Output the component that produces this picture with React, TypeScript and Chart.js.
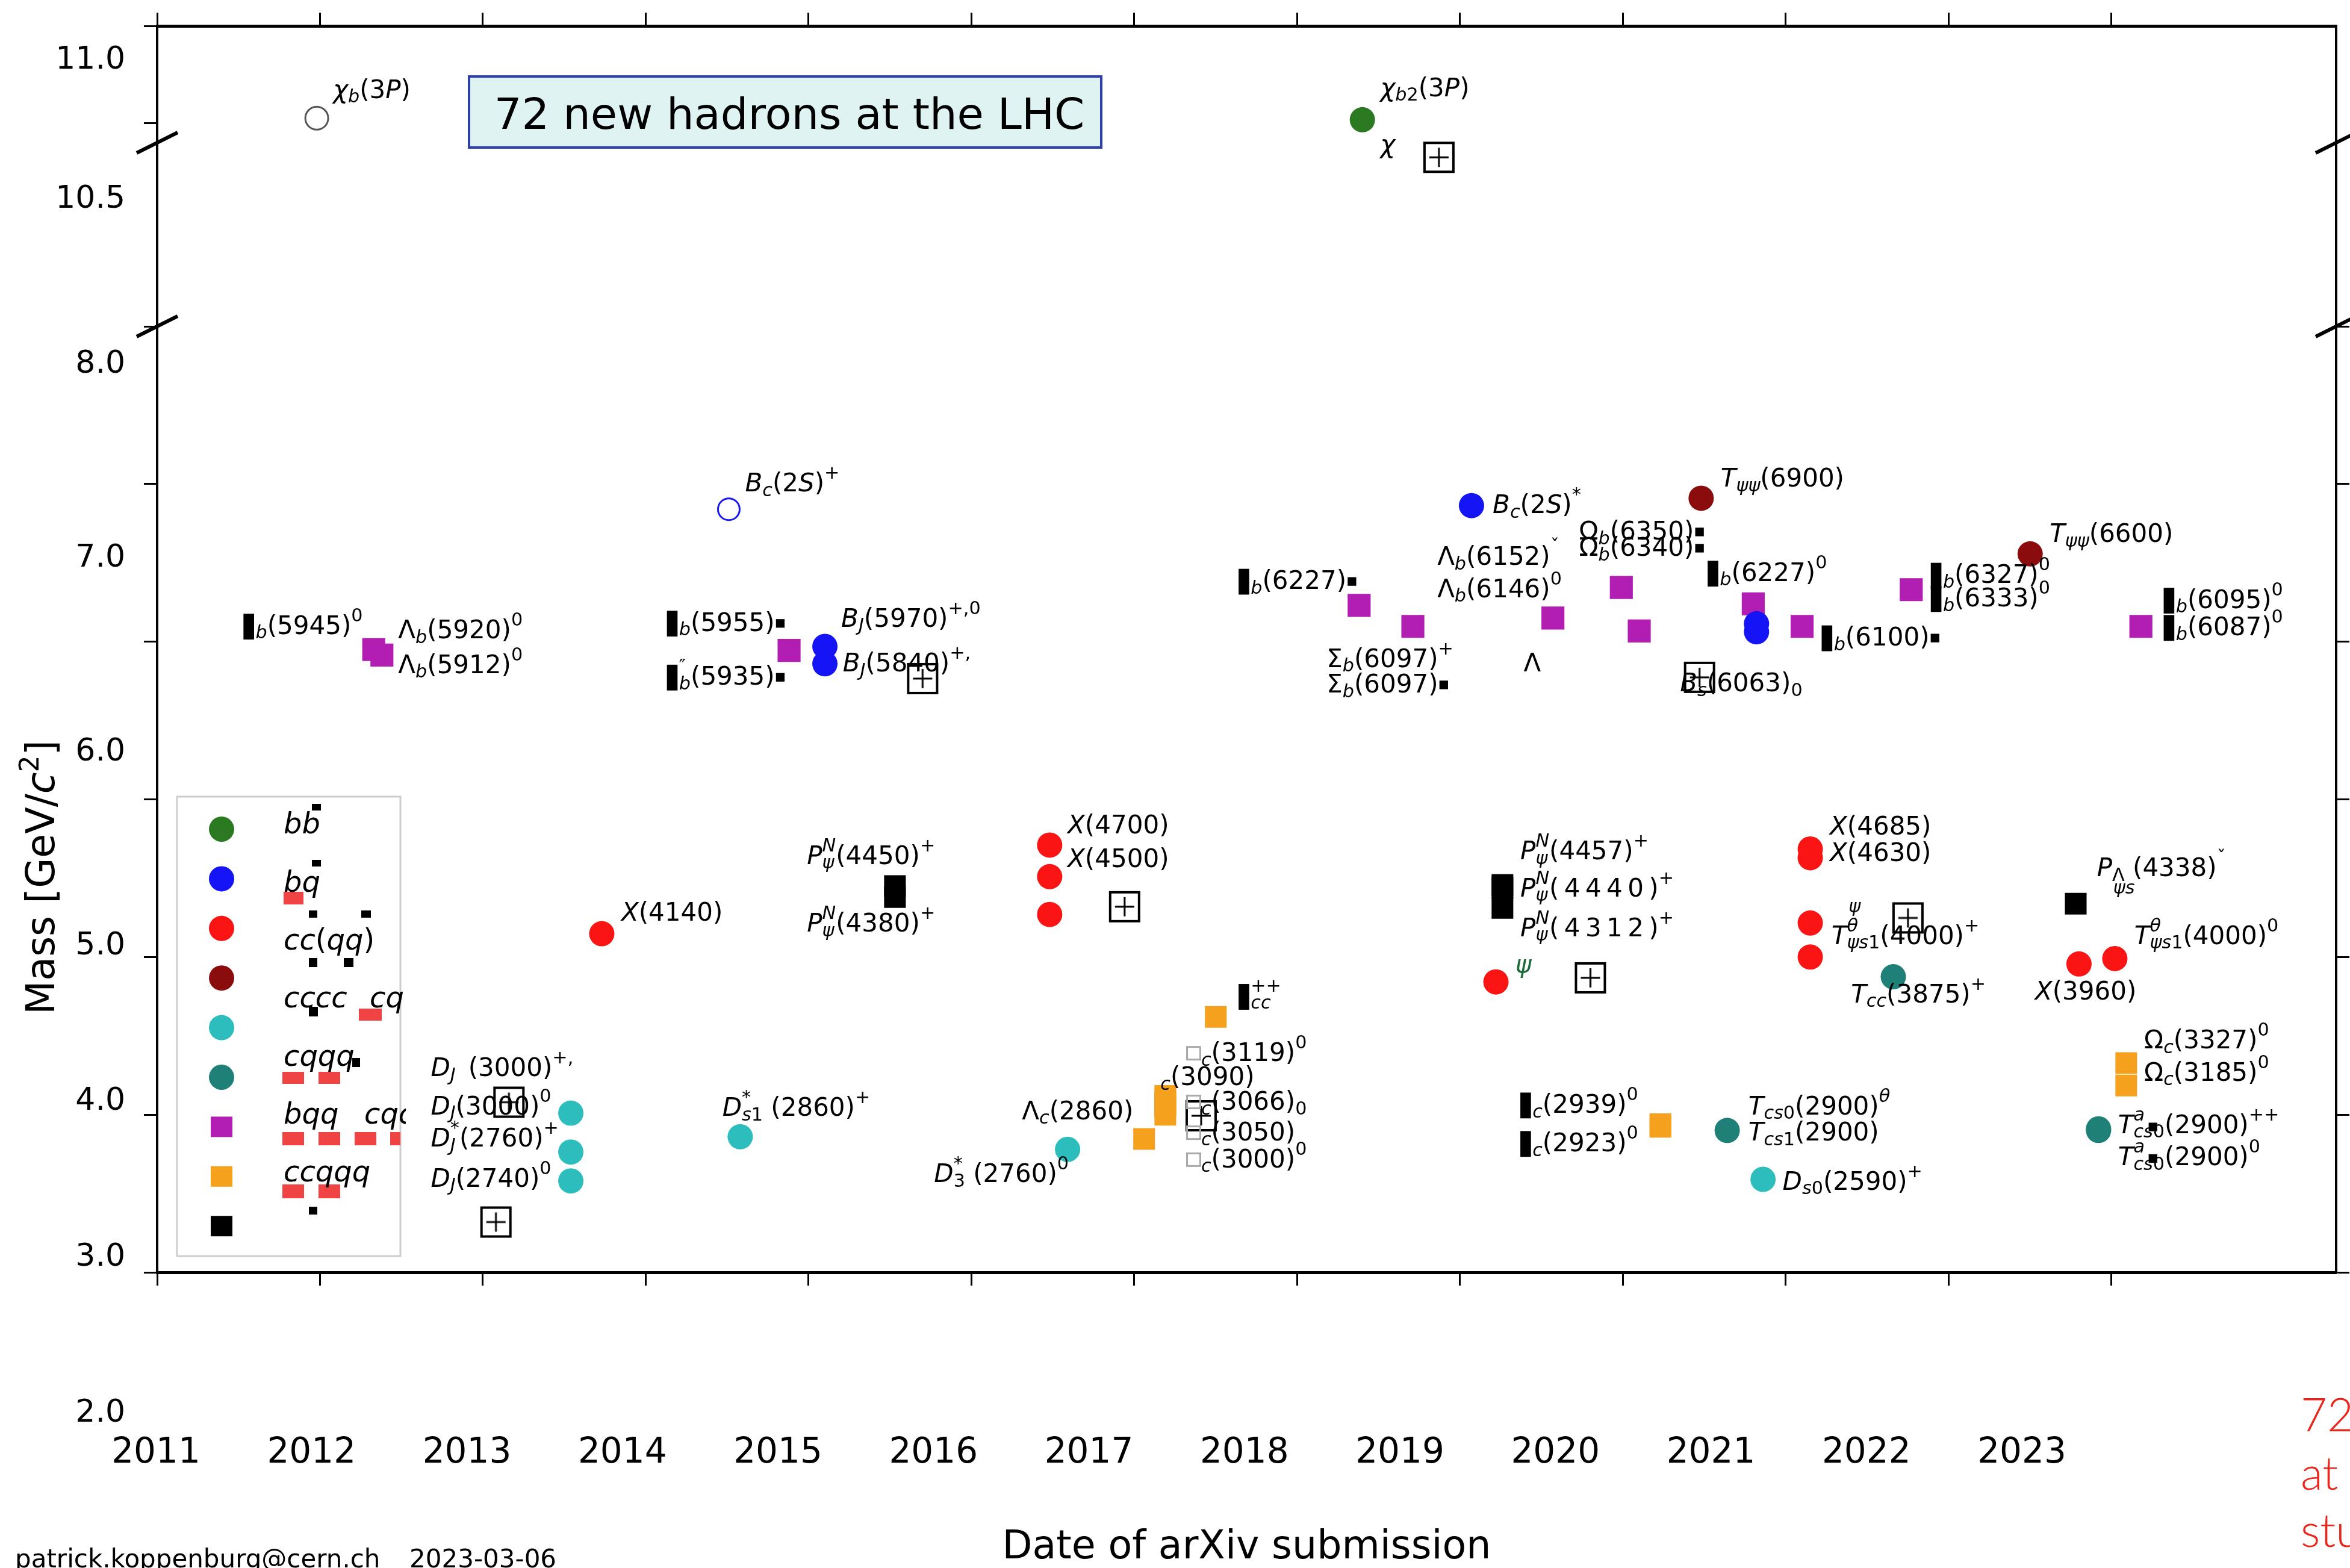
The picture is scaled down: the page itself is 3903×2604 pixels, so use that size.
import React, { useEffect, useRef } from 'react';
import { Chart, registerables, LinearScale } from 'chart.js';

Chart.register(...registerables);

const FONT = '"DejaVu Sans", Verdana, sans-serif';

// ---------------- axis ticks / labels ----------------
const yearTicks = [2011, 2012, 2013, 2014, 2015, 2016, 2017, 2018, 2019, 2020, 2021, 2022, 2023];
const yearLabels = [2011, 2012, 2013, 2014, 2015, 2016, 2017, 2018, 2019, 2020, 2021, 2022, 2023];
const massTicksLeft = [2, 3, 4, 5, 6, 7, 8, 10.5, 11];
const massTicksRight = [2, 3, 4, 5, 6, 7, 8];
const massLabels = [2, 3, 4, 5, 6, 7, 8, 10.5, 11];

// ---------------- legend ----------------
const legendNames = ['bb', 'bq', 'cc(qq)', 'cccc', 'cqqq', 'bqq', 'ccqqq'];
const legendNames2: [string, number, number][] = [['cq', 614, 3], ['cqc', 605, 5]];

// ---------------- data (year, mass GeV) ----------------
const bbPts = [[2018.40, 10.518]];
const bqPts = [[2015.10, 5.97], [2015.10, 5.86], [2019.07, 6.863], [2020.82, 6.114], [2020.82, 6.063]];
const ccPts = [[2013.73, 4.148], [2016.48, 4.71], [2016.48, 4.51], [2016.48, 4.27], [2019.22, 3.842],
  [2021.15, 4.685], [2021.15, 4.63], [2021.15, 4.216], [2021.15, 4.0], [2022.80, 3.956], [2023.02, 3.99]];
const ccccPts = [[2020.48, 6.91], [2022.50, 6.557]];
const cqPts = [[2013.54, 3.01], [2013.54, 2.763], [2013.54, 2.58], [2014.58, 2.86], [2016.59, 2.78], [2020.86, 2.59]];
const cqqqPts = [[2021.66, 3.875], [2020.64, 2.90], [2022.92, 2.90], [2022.92, 2.91]];
const bqqPts = [[2012.33, 5.95], [2012.38, 5.915], [2014.88, 5.945], [2018.38, 6.23], [2018.71, 6.097],
  [2019.57, 6.15], [2019.99, 6.344], [2020.10, 6.068], [2020.80, 6.24], [2021.10, 6.097], [2021.77, 6.33], [2023.18, 6.097]];
const ccqqqPts = [[2017.50, 3.62], [2017.19, 3.119], [2017.19, 3.09], [2017.19, 3.066], [2017.19, 3.05], [2017.19, 3.0],
  [2017.06, 2.846], [2020.23, 2.923], [2020.23, 2.939], [2023.09, 3.327], [2023.09, 3.185]];
const otherPts = [[2015.53, 4.45], [2015.53, 4.38], [2019.26, 4.457], [2019.26, 4.44], [2019.26, 4.312], [2022.78, 4.338]];
const bbOpenPts = [[2011.98, 10.526]];
const bqOpenPts = [[2014.51, 6.84]];
const boxPlusPts = [[2013.08, 2.319], [2013.16, 3.079], [2015.70, 5.766], [2016.94, 4.319], [2018.87, 10.209],
  [2019.80, 3.868], [2020.47, 5.774], [2017.41, 2.993], [2021.75, 4.248]];

// ---------------- particle names (text, year, mass) ----------------
const annotations: [string, number, number][] = [
  ['χ_b(3P)', 2012.08, 10.669],
  ['χ_{b2}(3P)', 2018.51, 10.678],
  ['χ', 2018.51, 10.369],
  ['▮_b(5945)^0', 2011.53, 6.097],
  ['Λ_b(5920)^0', 2012.48, 6.068],
  ['Λ_b(5912)^0', 2012.48, 5.850],
  ['▮_b(5955)▪', 2014.13, 6.116],
  ['▮_b^{″}(5935)▪', 2014.13, 5.774],
  ['B_J(5970)^{+,0}', 2015.20, 6.144],
  ['B_J(5840)^{+,}', 2015.21, 5.859],
  ['B_c(2S)^+', 2014.61, 7.0],
  ['P^N_ψ(4450)^+', 2014.99, 4.638],
  ['P^N_ψ(4380)^+', 2014.99, 4.209],
  ['X(4140)', 2013.85, 4.278],
  ['X(4700)', 2016.59, 4.833],
  ['X(4500)', 2016.59, 4.618],
  ['D^*_{s1} (2860)^+', 2014.47, 3.040],
  ['Λ_c(2860)', 2016.31, 3.020],
  ['D^*_3 (2760)^0', 2015.77, 2.621],
  ['D_J\u2002(3000)^{+,}', 2012.68, 3.293],
  ['D_J(3000)^0', 2012.68, 3.050],
  ['D_J^*(2760)^+', 2012.68, 2.846],
  ['D_J(2740)^0', 2012.68, 2.592],
  ['▮^{++}_{cc}', 2017.64, 3.749],
  ['□_c(3119)^0', 2017.32, 3.388],
  ['_c(3090)', 2017.16, 3.236],
  ['□_c(3066)_0', 2017.32, 3.079],
  ['□_c(3050)', 2017.32, 2.884],
  ['□_c(3000)^0', 2017.32, 2.713],
  ['▮_b(6227)▪', 2017.64, 6.382],
  ['Σ_b(6097)^+', 2018.18, 5.888],
  ['Σ_b(6097)▪', 2018.18, 5.726],
  ['Λ_b(6152)^{ˇ}', 2018.86, 6.534],
  ['Λ_b(6146)^0', 2018.86, 6.331],
  ['Λ', 2019.39, 5.859],
  ['Ω_b(6350)▪', 2019.73, 6.696],
  ['Ω_b(6340)▪', 2019.73, 6.593],
  ['B_c(2S)^*', 2019.20, 6.863],
  ['T_{ψψ}(6900)', 2020.60, 7.031],
  ['▮_b(6227)^0', 2020.52, 6.433],
  ['B_s(6063)_0', 2020.35, 5.732],
  ['▮_b(6100)▪', 2021.22, 6.023],
  ['▮_b(6327)^0', 2021.89, 6.420],
  ['▮_b(6333)^0', 2021.89, 6.272],
  ['T_{ψψ}(6600)', 2022.62, 6.681],
  ['▮_b(6095)^0', 2023.32, 6.262],
  ['▮_b(6087)^0', 2023.32, 6.089],
  ['P^N_ψ(4457)^+', 2019.37, 4.667],
  ['P^N_ψ(\u20094\u20094\u20094\u20090\u2009)^+', 2019.37, 4.433],
  ['P^N_ψ(\u20094\u20093\u20091\u20092\u2009)^+', 2019.37, 4.181],
  ['▮_c(2939)^0', 2019.37, 3.060],
  ['▮_c(2923)^0', 2019.37, 2.816],
  ['X(4685)', 2021.27, 4.823],
  ['X(4630)', 2021.27, 4.658],
  ['T^θ_{ψs1}(4000)^+', 2021.28, 4.131],
  ['^{ψ}', 2021.385, 4.253],
  ['T_{cc}(3875)^+', 2021.40, 3.761],
  ['T_{cs0}(2900)^θ', 2020.77, 3.050],
  ['T_{cs1}(2900)', 2020.77, 2.884],
  ['D_{s0}(2590)^+', 2020.98, 2.573],
  ['P_Λ (4338)^{ˇ}', 2022.91, 4.560],
  ['_{ψs}', 2023.01, 4.481],
  ['T^θ_{ψs1}(4000)^0', 2023.14, 4.131],
  ['X(3960)', 2022.53, 3.780],
  ['Ω_c(3327)^0', 2023.20, 3.469],
  ['Ω_c(3185)^0', 2023.20, 3.264],
  ['T^a_{cs0}(2900)^{++}', 2023.04, 2.932],
  ['T^a_{cs0}(2900)^0', 2023.04, 2.728],
  ['▪', 2023.22, 2.922],
  ['▪', 2023.22, 2.722],
];
const psiNotes: [string, number, number][] = [['ψ', 2019.34, 3.949]];

// ---------------- page / axis geometry ----------------
const CW = 3903, CH = 2604;
const TOP = 43, BOTTOM = 2113, LEFT = 261, RIGHT = 3880;
const vdec = (px: number) => (BOTTOM - px) / (BOTTOM - TOP);
const hdec = (px: number) => (px - LEFT) / (RIGHT - LEFT);
const mainBreaks = [[2, vdec(2113)], [8, vdec(542)], [10.4, vdec(237)], [11, vdec(43)]];
const SCALE_BREAKS: Record<string, number[][]> = {
  y: mainBreaks,
  yR: mainBreaks,
  yLab: [[2, vdec(2347)], [5, vdec(1571)], [8, vdec(605)], [10.5, vdec(331)], [11, vdec(100)]],
  xLab: [[2011, hdec(259)], [2023, hdec(3358)]],
};

class BrokenScale extends LinearScale {
  static id = 'broken';
  static defaults = { ...(LinearScale as any).defaults };
  getPixelForValue(value: any) {
    if (value === null || value === undefined || isNaN(value)) return NaN;
    const b = SCALE_BREAKS[(this as any).id];
    let i = 0;
    while (i < b.length - 2 && value > b[i + 1][0]) i++;
    const [v0, d0] = b[i];
    const [v1, d1] = b[i + 1];
    const d = d0 + ((value - v0) * (d1 - d0)) / (v1 - v0);
    return (this as any).getPixelForDecimal(d);
  }
  getValueForPixel(pixel: number) {
    const b = SCALE_BREAKS[(this as any).id];
    const d = (this as any).getDecimalForPixel(pixel);
    let i = 0;
    while (i < b.length - 2 && d > b[i + 1][1]) i++;
    const [v0, d0] = b[i];
    const [v1, d1] = b[i + 1];
    return v0 + ((d - d0) * (v1 - v0)) / (d1 - d0);
  }
}
Chart.register(BrokenScale as any);

// ---------------- rich text helpers ----------------
type Tok = { text: string; kind: 'n' | 'sub' | 'sup' };
function parseLabel(s: string): Tok[] {
  const out: Tok[] = [];
  let buf = '';
  let i = 0;
  const flush = () => { if (buf) { out.push({ text: buf, kind: 'n' }); buf = ''; } };
  while (i < s.length) {
    const ch = s[i];
    if (ch === '_' || ch === '^') {
      flush();
      let grp = '';
      if (s[i + 1] === '{') {
        const j = s.indexOf('}', i + 2);
        grp = s.slice(i + 2, j);
        i = j + 1;
      } else {
        const cp = String.fromCodePoint(s.codePointAt(i + 1) as number);
        grp = cp;
        i += 1 + cp.length;
      }
      out.push({ text: grp, kind: ch === '_' ? 'sub' : 'sup' });
    } else {
      buf += ch;
      i++;
    }
  }
  flush();
  return out;
}

function drawRun(ctx: CanvasRenderingContext2D, s: string, x: number, baseline: number, size: number, mid: number, color: string, autoItalic = true) {
  for (const ch of Array.from(s)) {
    if (ch === '▮') {
      ctx.fillStyle = color;
      ctx.fillRect(x, mid - size * 0.5, size * 0.42, size * 1.02);
      x += size * 0.48;
      continue;
    }
    if (ch === '▪') {
      ctx.fillStyle = color;
      ctx.fillRect(x + size * 0.05, mid - size * 0.17, size * 0.34, size * 0.34);
      x += size * 0.44;
      continue;
    }
    if (ch === '□') {
      ctx.strokeStyle = '#a9a9a9';
      ctx.lineWidth = 3;
      ctx.strokeRect(x + 1, mid - size * 0.26, size * 0.52, size * 0.5);
      x += size * 0.58;
      continue;
    }
    const it = autoItalic && /[A-Za-z\u03b1-\u03c9]/.test(ch);
    ctx.font = `${it ? 'italic ' : ''}${size}px ${FONT}`;
    ctx.fillStyle = color;
    ctx.fillText(ch, x, baseline);
    x += ctx.measureText(ch).width;
  }
  return x;
}

function drawRich(ctx: CanvasRenderingContext2D, text: string, x: number, y: number, size: number, color: string) {
  const toks = parseLabel(text);
  const ss = size * 0.72;
  const base = y + size * 0.3;
  let cx = x;
  let prev: null | { kind: string; start: number } = null;
  ctx.textBaseline = 'alphabetic';
  ctx.textAlign = 'left';
  for (const t of toks) {
    if (t.kind === 'n') {
      cx = drawRun(ctx, t.text, cx, base, size, y, color);
      prev = null;
    } else {
      const bl = t.kind === 'sub' ? base + size * 0.18 : base - size * 0.5;
      const stacked = prev && prev.kind !== t.kind;
      const start = stacked ? (prev as any).start : cx;
      const end = drawRun(ctx, t.text, start, bl, ss, bl - ss * 0.3, color);
      if (stacked) { cx = Math.max(cx, end); prev = null; }
      else { cx = end; prev = { kind: t.kind, start }; }
    }
  }
  return cx;
}

// ---------------- decorations plugin ----------------
const legendRed = [[471, 1481, 33, 21], [469, 1780, 36, 20], [529, 1780, 36, 20], [469, 1880, 36, 22], [529, 1880, 36, 22],
  [589, 1880, 36, 22], [648, 1880, 17, 22], [469, 1967, 36, 23], [529, 1967, 36, 23], [596, 1675, 38, 20]];
const legendBlack = [[518, 1335, 15, 11], [518, 1428, 15, 11], [513, 1512, 14, 12], [600, 1512, 16, 12], [513, 1591, 14, 15],
  [571, 1591, 16, 15], [513, 1672, 15, 16], [585, 1757, 13, 15], [513, 2004, 14, 13]];

const decorPlugin = {
  id: 'decor',
  afterDatasetsDraw(chart: any) {
    const { ctx, scales, chartArea } = chart;
    const xs = scales.x;
    const ys = scales.y;
    ctx.save();

    // particle names
    for (const [t, xv, yv] of annotations) {
      drawRich(ctx, t, xs.getPixelForValue(xv), ys.getPixelForValue(yv), 42, '#000');
    }
    for (const [t, xv, yv] of psiNotes) {
      drawRich(ctx, t, xs.getPixelForValue(xv), ys.getPixelForValue(yv), 40, '#1b6b3a');
    }

    // axis break marks
    ctx.strokeStyle = '#000';
    ctx.lineWidth = 6;
    ctx.lineCap = 'butt';
    for (const v of [10.4, 8]) {
      const py = ys.getPixelForValue(v);
      for (const px of [chartArea.left, chartArea.right]) {
        ctx.beginPath();
        ctx.moveTo(px - 34, py + 17);
        ctx.lineTo(px + 34, py - 17);
        ctx.stroke();
      }
    }

    // title box
    ctx.fillStyle = '#e0f3f3';
    ctx.fillRect(779, 127, 1050, 118);
    ctx.strokeStyle = '#2d3fb4';
    ctx.lineWidth = 4;
    ctx.strokeRect(779, 127, 1050, 118);
    ctx.fillStyle = '#000';
    ctx.font = `72px ${FONT}`;
    ctx.textAlign = 'center';
    ctx.textBaseline = 'alphabetic';
    ctx.fillText('72 new hadrons at the LHC', 1311, 214);

    // legend
    const lx = 294, ly = 1323, lw = 371, lh = 763;
    ctx.fillStyle = '#fff';
    ctx.fillRect(lx, ly, lw, lh);
    ctx.strokeStyle = '#cdcdcd';
    ctx.lineWidth = 3;
    ctx.strokeRect(lx, ly, lw, lh);
    const ds = chart.data.datasets;
    for (let i = 0; i < 9; i++) {
      const d = ds[i];
      const cy = 1377 + i * 82.4;
      ctx.fillStyle = d.backgroundColor;
      if (d.pointStyle === 'circle') {
        ctx.beginPath();
        ctx.arc(368, cy, 21, 0, Math.PI * 2);
        ctx.fill();
      } else {
        ctx.fillRect(368 - 18, cy - 17, 36, 34);
      }
    }
    ctx.fillStyle = '#f04444';
    for (const [x, y, w, h] of legendRed) ctx.fillRect(x, y, w, h);
    ctx.fillStyle = '#000';
    for (const [x, y, w, h] of legendBlack) ctx.fillRect(x, y, w, h);
    ctx.save();
    ctx.beginPath();
    ctx.rect(lx, ly, lw + 9, lh);
    ctx.clip();
    legendNames.forEach((n, i) => drawRich(ctx, n, 471, 1370 + i * 96.3, 48, '#000'));
    for (const [n, x, row] of legendNames2) drawRich(ctx, n, x, 1370 + row * 96.3, 48, '#000');
    ctx.restore();

    // y axis title
    ctx.save();
    ctx.translate(90, 1457);
    ctx.rotate(-Math.PI / 2);
    ctx.textAlign = 'left';
    ctx.textBaseline = 'alphabetic';
    const parts: [string, string, number, number][] = [
      ['Mass [GeV/', '', 65, 0], ['c', 'italic ', 65, 0], ['2', '', 44, -26], [']', '', 65, 0],
    ];
    let tw = 0;
    for (const [t, st, sz] of parts) { ctx.font = `${st}${sz}px ${FONT}`; tw += ctx.measureText(t).width; }
    let tx = -tw / 2;
    ctx.fillStyle = '#000';
    for (const [t, st, sz, dy] of parts) {
      ctx.font = `${st}${sz}px ${FONT}`;
      ctx.fillText(t, tx, dy);
      tx += ctx.measureText(t).width;
    }
    ctx.restore();

    // credits
    ctx.fillStyle = '#000';
    ctx.textAlign = 'left';
    ctx.font = `42px ${FONT}`;
    ctx.fillText('patrick.koppenburg@cern.ch', 25, 2603);
    ctx.fillText('2023-03-06', 680, 2603);

    // red side text
    ctx.fillStyle = '#e8261c';
    ctx.font = '300 76px Lato, "Liberation Sans", sans-serif';
    ctx.fillText('72', 3821, 2377);
    ctx.fillText('at', 3821, 2474);
    ctx.fillText('stu', 3821, 2569);

    ctx.restore();
  },
};

const mk = (arr: number[][]) => arr.map(([x, y]) => ({ x, y }));

function makeBoxPlus() {
  const c = document.createElement('canvas');
  c.width = 54;
  c.height = 54;
  const g = c.getContext('2d') as CanvasRenderingContext2D;
  g.strokeStyle = '#000';
  g.lineWidth = 4;
  g.strokeRect(3, 3, 48, 48);
  g.lineWidth = 3;
  g.beginPath();
  g.moveTo(27, 11);
  g.lineTo(27, 43);
  g.moveTo(11, 27);
  g.lineTo(43, 27);
  g.stroke();
  return c;
}

const zeroPad = (s: any) => { s.paddingTop = 0; s.paddingBottom = 0; s.paddingLeft = 0; s.paddingRight = 0; };
const fixW = (w: number) => (s: any) => { s.width = w; zeroPad(s); };
const fixH = (h: number) => (s: any) => { s.height = h; zeroPad(s); };
const setTicks = (vals: number[]) => (s: any) => { s.ticks = vals.map((v) => ({ value: v })); };

export default function App() {
  const ref = useRef<HTMLCanvasElement>(null);
  useEffect(() => {
    document.body.style.margin = '0';
    document.body.style.overflow = 'hidden';
    const canvas = ref.current as HTMLCanvasElement;
    const boxImg = makeBoxPlus();
    const xMax = 2011 + (RIGHT - LEFT) / 270.5;
    const tickGrid = { display: true, drawOnChartArea: false, drawTicks: true, tickLength: 22, tickWidth: 3, tickColor: '#000' };
    const yDash = [237 - (TOP - 2), 542 - 237, 4000];

    const chart = new Chart(canvas, {
      type: 'scatter',
      data: {
        datasets: [
          { label: 'bb', data: mk(bbPts), pointStyle: 'circle', pointRadius: 21, backgroundColor: '#2b7a22', borderWidth: 0 },
          { label: 'bq', data: mk(bqPts), pointStyle: 'circle', pointRadius: 21, backgroundColor: '#1414f5', borderWidth: 0 },
          { label: 'cc(qq)', data: mk(ccPts), pointStyle: 'circle', pointRadius: 21, backgroundColor: '#fa1414', borderWidth: 0 },
          { label: 'cccc', data: mk(ccccPts), pointStyle: 'circle', pointRadius: 21, backgroundColor: '#8a0c0c', borderWidth: 0 },
          { label: 'cq', data: mk(cqPts), pointStyle: 'circle', pointRadius: 21, backgroundColor: '#2dbdbd', borderWidth: 0 },
          { label: 'cqqq', data: mk(cqqqPts), pointStyle: 'circle', pointRadius: 21, backgroundColor: '#1e8077', borderWidth: 0 },
          { label: 'bqq', data: mk(bqqPts), pointStyle: 'rect', pointRadius: 27, backgroundColor: '#b21db2', borderWidth: 0 },
          { label: 'ccqqq', data: mk(ccqqqPts), pointStyle: 'rect', pointRadius: 25.5, backgroundColor: '#f5a11e', borderWidth: 0 },
          { label: 'other', data: mk(otherPts), pointStyle: 'rect', pointRadius: 25.5, backgroundColor: '#000000', borderWidth: 0 },
          { label: 'bb (open)', data: mk(bbOpenPts), pointStyle: 'circle', pointRadius: 19, backgroundColor: 'rgba(0,0,0,0)', borderColor: '#555555', borderWidth: 3 },
          { label: 'bq (open)', data: mk(bqOpenPts), pointStyle: 'circle', pointRadius: 18, backgroundColor: 'rgba(0,0,0,0)', borderColor: '#1a1af0', borderWidth: 3 },
          { label: 'boxed', data: mk(boxPlusPts), pointStyle: boxImg as any, pointRadius: 27, backgroundColor: '#000', borderWidth: 0 },
        ] as any,
      },
      options: {
        animation: false,
        responsive: false,
        devicePixelRatio: 1,
        events: [],
        layout: { padding: 0, autoPadding: false },
        plugins: { legend: { display: false }, tooltip: { enabled: false }, title: { display: false } },
        scales: {
          x: {
            type: 'linear', position: 'bottom', min: 2011, max: xMax, weight: 0,
            afterBuildTicks: setTicks(yearTicks), afterFit: fixH(30),
            ticks: { display: false },
            grid: tickGrid,
            border: { display: true, width: 5, color: '#000' },
          },
          xLab: {
            type: 'broken', position: 'bottom', min: 2011, max: 2025, weight: 1,
            afterBuildTicks: setTicks(yearLabels), afterFit: fixH(CH - BOTTOM - 30),
            ticks: {
              display: true, autoSkip: false, maxRotation: 0, minRotation: 0, padding: 236, color: '#000',
              font: { family: FONT, size: 58 }, callback: (v: any) => String(v),
            },
            grid: { display: false, drawTicks: false },
            border: { display: false },
            title: { display: true, text: 'Date of arXiv submission', color: '#000', font: { family: FONT, size: 65, lineHeight: 1 }, padding: 0 },
          },
          xTop: {
            type: 'linear', position: 'top', min: 2011, max: xMax,
            afterBuildTicks: setTicks(yearTicks), afterFit: fixH(TOP),
            ticks: { display: false },
            grid: tickGrid,
            border: { display: true, width: 5, color: '#000' },
          },
          y: {
            type: 'broken', position: 'left', min: 2, max: 11, weight: 0,
            afterBuildTicks: setTicks(massTicksLeft), afterFit: fixW(30),
            ticks: { display: false },
            grid: tickGrid,
            border: { display: true, width: 4, color: '#000', dash: yDash },
          },
          yLab: {
            type: 'broken', position: 'left', min: 2, max: 11, weight: 1,
            afterBuildTicks: setTicks(massLabels), afterFit: fixW(LEFT - 30),
            ticks: {
              display: true, autoSkip: false, padding: 23, color: '#000',
              font: { family: FONT, size: 52 }, callback: (v: any) => Number(v).toFixed(1),
            },
            grid: { display: false, drawTicks: false },
            border: { display: false },
          },
          yR: {
            type: 'broken', position: 'right', min: 2, max: 11,
            afterBuildTicks: setTicks(massTicksRight), afterFit: fixW(CW - RIGHT),
            ticks: { display: false },
            grid: tickGrid,
            border: { display: true, width: 4, color: '#000', dash: yDash },
          },
        } as any,
      },
      plugins: [decorPlugin],
    } as any);
    return () => chart.destroy();
  }, []);
  return <canvas ref={ref} width={CW} height={CH} style={{ display: 'block', width: CW, height: CH, background: '#fff' }} />;
}
